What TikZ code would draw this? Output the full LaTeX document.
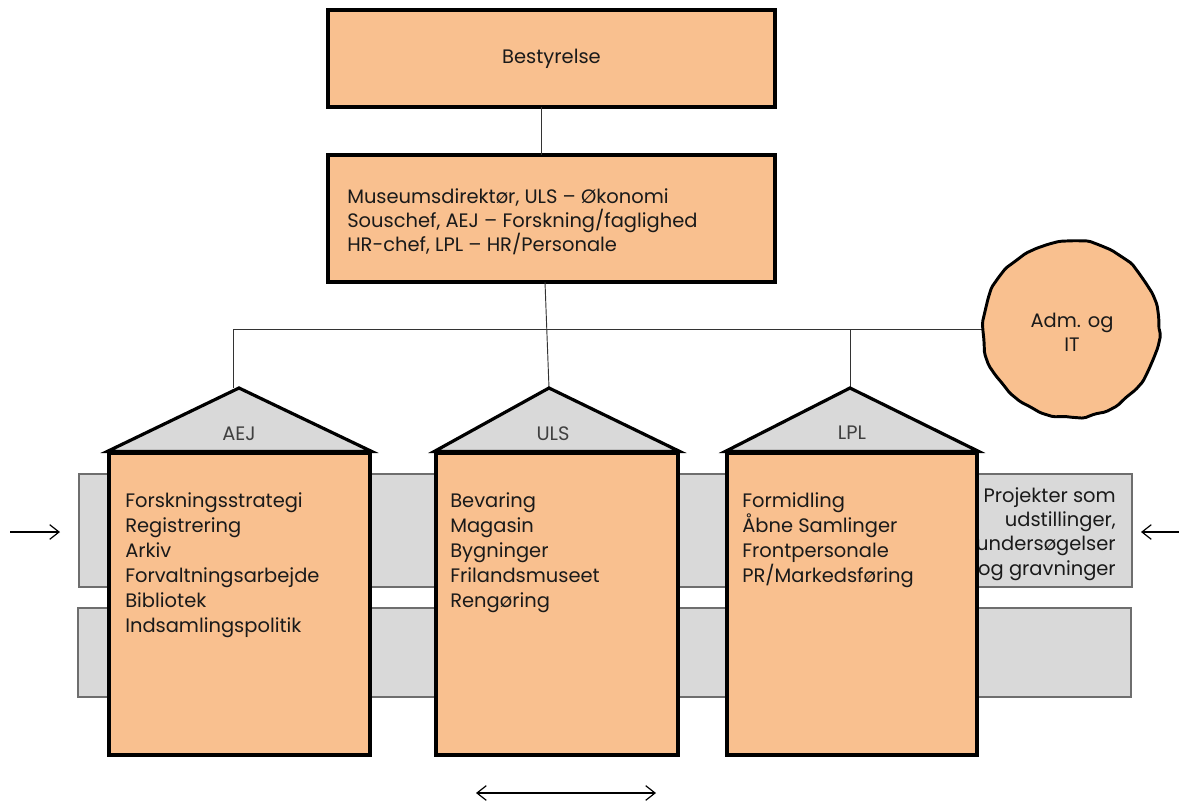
\documentclass[tikz,border=0pt]{standalone}
\usepackage{fontspec}
\setmainfont{Poppins}
\usetikzlibrary{arrows.meta,decorations.pathmorphing}
\definecolor{peach}{HTML}{F9C08F}
\definecolor{bandfill}{HTML}{D9D9D9}
\definecolor{bandline}{HTML}{6E6E6E}
\definecolor{ink}{HTML}{1A1A1A}
\tikzset{
  boxstyle/.style={draw=black, line width=2.4pt, fill=peach, inner sep=0pt},
  roofstyle/.style={draw=black, line width=2.4pt, fill=bandfill, line join=miter},
  bandstyle/.style={draw=bandline, line width=0.8pt, fill=bandfill, inner sep=0pt},
  connstyle/.style={draw=black!80, line width=0.7pt},
  txt/.style={font=\fontsize{14.6}{17}\selectfont, text=ink, inner sep=0pt},
  lbl/.style={txt, text=black!75},
  arrowstyle/.style={draw=black, line width=0.8pt},
  barb/.tip={Straight Barb[length=7pt,width=11pt,line width=0.9pt]}
}
\begin{document}
\begin{tikzpicture}[x=0.75pt,y=-0.75pt]
\useasboundingbox (0,0) rectangle (1179,801);

% top boxes
\node[boxstyle, minimum width=335.25pt, minimum height=72.75pt, txt] (best) at (551.5,58.5) {Bestyrelse};
\node[boxstyle, minimum width=335.25pt, minimum height=95.25pt] (mus) at (551.5,218.5) {};
\node[txt, anchor=base west] (m1) at (347,203) {Museumsdirektør, ULS – Økonomi};
\node[txt, anchor=base west] (m2) at (347,227) {Souschef, AEJ – Forskning/faglighed};
\node[txt, anchor=base west] (m3) at (347,251) {HR-chef, LPL – HR/Personale};

\coordinate (bestout) at (541,107);
\coordinate (musin) at (541,155);
\coordinate (musout) at (545,282);
\draw[connstyle] (bestout) -- (musin);

% bands
\node[bandstyle, minimum width=789.75pt, minimum height=84.75pt] (band1) at (605.5,530.5) {};
\node[bandstyle, minimum width=789.75pt, minimum height=66.75pt] (band2) at (604.5,652.5) {};

% Projekter text (partly covered by LPL house)
\node[txt, anchor=base east] (p1) at (1116,502) {Projekter som};
\node[txt, anchor=base east] (p2) at (1116,526) {udstillinger,};
\node[txt, anchor=base east] (p3) at (1116,550) {undersøgelser};
\node[txt, anchor=base east] (p4) at (1116,575) {og gravninger};

% connectors to houses
\coordinate (hAEJ) at (233,329);
\coordinate (hLPL) at (850,329);
\coordinate (aejline) at (233,388);
\coordinate (aejtop) at (239,388);
\coordinate (ulstop) at (549,388);
\coordinate (lpltop) at (850,388);

% circle
\draw[connstyle] (hAEJ) -- (1000,329);
\pgfmathsetseed{7}
\node[circle, minimum size=132pt, inner sep=0pt, fill=peach, draw=black, line width=2.2pt,
      decorate, decoration={random steps, segment length=9pt, amplitude=0.9pt}, rounded corners=1.5pt] (adm) at (1071,329) {};
\node[txt, anchor=base] (adm1) at (1072,327) {Adm. og};
\node[txt, anchor=base] (adm2) at (1072,351) {IT};

\draw[connstyle] (hAEJ) -- (aejline);
\draw[connstyle] (musout) -- (ulstop);
\draw[connstyle] (hLPL) -- (lpltop);

% houses: bodies
\node[boxstyle, minimum width=195.75pt, minimum height=226.5pt] (aej) at (239.5,604) {};
\node[boxstyle, minimum width=181.5pt, minimum height=226.5pt] (uls) at (557,604) {};
\node[boxstyle, minimum width=187.5pt, minimum height=226.5pt] (lpl) at (852,604) {};
% roofs
\draw[roofstyle] (aej.north west) -- (aejtop) -- (aej.north east) -- cycle;
\draw[roofstyle] (uls.north west) -- (ulstop) -- (uls.north east) -- cycle;
\draw[roofstyle] (lpl.north west) -- (lpltop) -- (lpl.north east) -- cycle;
\draw[boxstyle, fill=none] (aej.north west) -- (aej.north east);
\draw[boxstyle, fill=none] (uls.north west) -- (uls.north east);
\draw[boxstyle, fill=none] (lpl.north west) -- (lpl.north east);

\node[lbl, anchor=base] (aejl) at (239,440) {AEJ};
\node[lbl, anchor=base] (ulsl) at (553,440) {ULS};
\node[lbl, anchor=base] (lpll) at (852,439) {LPL};

% lists
\foreach \t [count=\i] in {Forskningsstrategi, Registrering, Arkiv, Forvaltningsarbejde, Bibliotek, Indsamlingspolitik}
  \node[txt, anchor=base west] (aej\i) at (125,{507+25*(\i-1)}) {\t};
\foreach \t [count=\i] in {Bevaring, Magasin, Bygninger, Frilandsmuseet, Rengøring}
  \node[txt, anchor=base west] (uls\i) at (450,{507+25*(\i-1)}) {\t};
\foreach \t [count=\i] in {Formidling, Åbne Samlinger, Frontpersonale, PR/Markedsføring}
  \node[txt, anchor=base west] (lpl\i) at (742,{507+25*(\i-1)}) {\t};

% arrows
\coordinate (la1) at (10,532);
\coordinate (la2) at (60,532);
\coordinate (ra1) at (1179,532);
\coordinate (ra2) at (1141,532);
\coordinate (ba1) at (476,793);
\coordinate (ba2) at (656,793);
\draw[arrowstyle, -{barb}] (la1) -- (la2);
\draw[arrowstyle, -{barb}] (ra1) -- (ra2);
\draw[arrowstyle, {barb}-{barb}] (ba1) -- (ba2);
\end{tikzpicture}
\end{document}
